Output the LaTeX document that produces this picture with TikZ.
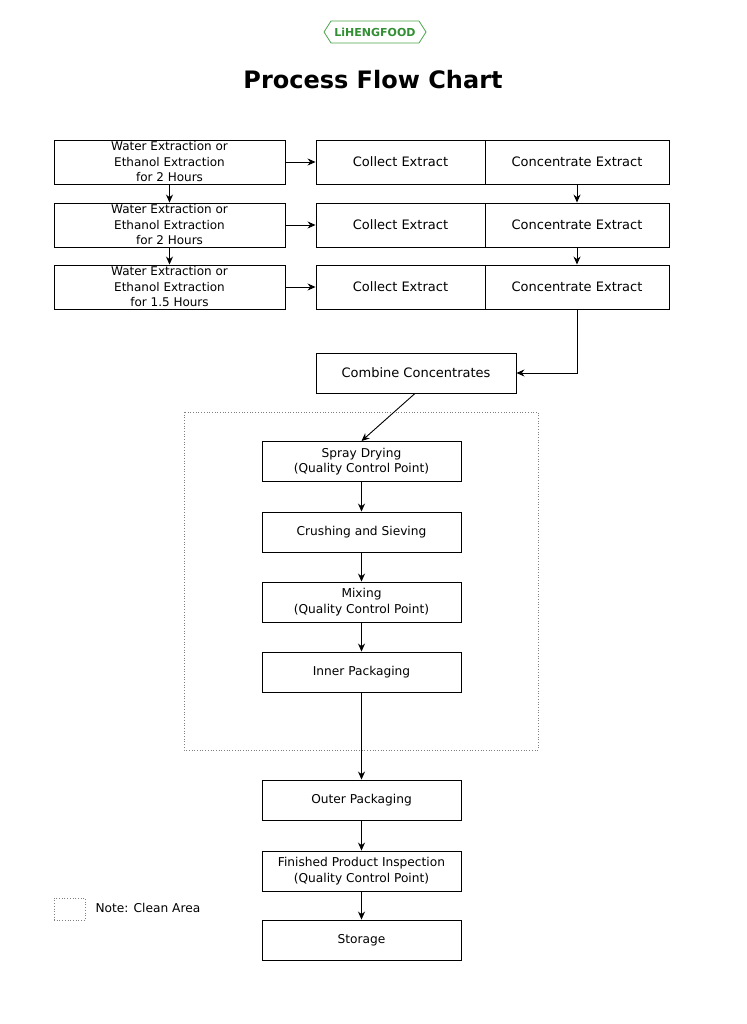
\documentclass[tikz,border=0pt]{standalone}
\usepackage{fontspec}
\setmainfont{DejaVu Sans}
\usetikzlibrary{arrows.meta}
\begin{document}
\begin{tikzpicture}[x=1pt,y=-1pt,
 box/.style={draw,line width=0.9pt,inner sep=0pt,font=\fontsize{13}{15.5}\selectfont,align=center},
 arr/.style={-{Stealth[length=8pt,width=7pt]},line width=0.9pt}]
\useasboundingbox (0,0) rectangle (746,1024);
\fill[white] (0,0) rectangle (746,1024);
% logo
\draw[green!50!black!70,line width=0.8pt] (324,32)--(331,21)--(419,21)--(426,32)--(419,43)--(331,43)--cycle;
\node[font=\fontsize{11}{12}\selectfont\bfseries,text=green!45!black!80] (logo) at (375,32) {LiHENGFOOD};
\node[font=\fontsize{24}{28}\selectfont\bfseries] (title) at (373,80) {Process Flow Chart};
% rows
\foreach \i/\t/\b/\h in {1/140/184/2 Hours,2/203/247/2 Hours,3/265/309/1.5 Hours}{
 \node[box,font=\fontsize{12}{15.5}\selectfont,minimum width=231pt,minimum height=44pt] (w\i) at (169.5,{(\t+\b)/2}) {Water Extraction or\\Ethanol Extraction\\for \h};
 \node[box,minimum width=169pt,minimum height=44pt] (c\i) at (400.5,{(\t+\b)/2}) {Collect Extract};
 \node[box,minimum width=184pt,minimum height=44pt] (k\i) at (577,{(\t+\b)/2}) {Concentrate Extract};
 \draw[arr] (w\i) -- (c\i);
}
\draw[arr] (w1) -- (w2);
\draw[arr] (w2) -- (w3);
\draw[arr] (k1) -- (k2);
\draw[arr] (k2) -- (k3);
\node[box,minimum width=200pt,minimum height=40pt] (comb) at (416,373) {Combine Concentrates};
\coordinate (turn) at (577,373);
\draw[arr] (k3.south) -- (turn) -- (comb.east);
\draw[dotted,gray,line width=0.7pt] (184,412) rectangle (538,750);
\foreach \n/\c/\t in {spray/461.5/Spray Drying\\(Quality Control Point),crush/532/Crushing and Sieving,mix/602/Mixing\\(Quality Control Point),inner/672/Inner Packaging,outer/800/Outer Packaging,fin/871/Finished Product Inspection\\(Quality Control Point),stor/940/Storage}{
 \node[box,font=\fontsize{12.2}{15.5}\selectfont,minimum width=199pt,minimum height=40pt] (\n) at (361.5,\c) {\t};}
\draw[arr] ([xshift=-1pt]comb.south) -- (spray.north);
\draw[arr] (spray) -- (crush);
\draw[arr] (crush) -- (mix);
\draw[arr] (mix) -- (inner);
\draw[arr] (inner) -- (outer);
\draw[arr] (outer) -- (fin);
\draw[arr] (fin) -- (stor);
\node[draw,dotted,gray,line width=0.7pt,minimum width=31pt,minimum height=22pt] (leg) at (69.5,909) {};
\node[anchor=west,font=\fontsize{12.2}{13}\selectfont] (legt) at (92,908) {Note: Clean Area};
\end{tikzpicture}
\end{document}
